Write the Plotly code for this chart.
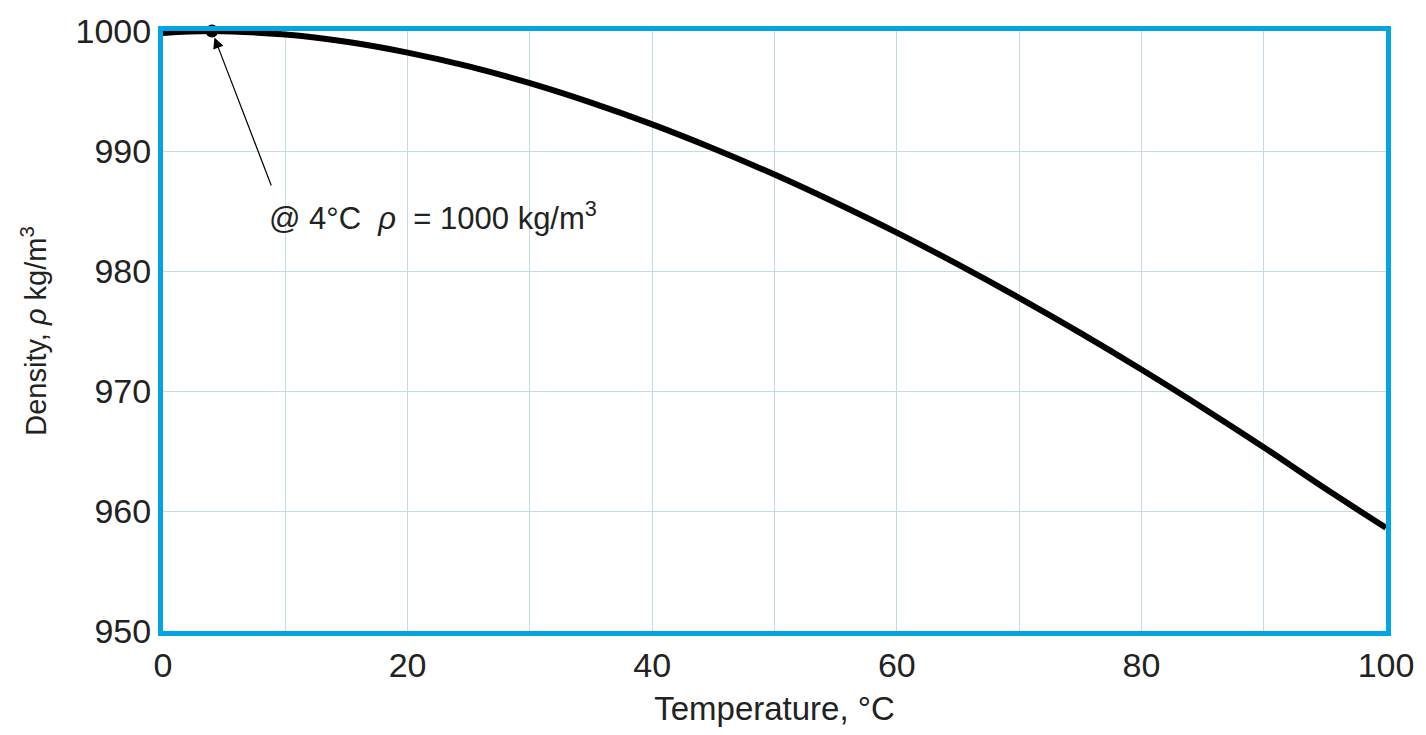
import plotly.graph_objects as go

# Data (density of water vs temperature)
temperature_c = [0, 4, 10, 15, 20, 25, 30, 35, 40, 45, 50, 55, 60, 65, 70, 75, 80, 85, 90, 95, 100]
density_kg_m3 = [999.84, 1000.0, 999.70, 999.10, 998.20, 997.05, 995.65, 994.03, 992.22,
                 990.21, 988.04, 985.69, 983.20, 980.55, 977.76, 974.84, 971.79, 968.61, 965.31, 961.89, 958.6]

max_point_t = [4]
max_point_rho = [1000.0]

x_ticks = [0, 20, 40, 60, 80, 100]
y_ticks = [950, 960, 970, 980, 990, 1000]

FONT = "Liberation Sans, Arial, sans-serif"
FRAME = "#02a4e4"
GRID = "#c3dbe4"
TXT = "#222222"

fig = go.Figure()
fig.add_trace(go.Scatter(
    x=temperature_c, y=density_kg_m3, mode="lines",
    line=dict(color="black", width=6, shape="spline", smoothing=1.0),
    showlegend=False, hoverinfo="x+y",
))
fig.add_trace(go.Scatter(
    x=max_point_t, y=max_point_rho, mode="markers",
    marker=dict(color="black", size=13),
    cliponaxis=False, showlegend=False,
))

# arrow
fig.add_annotation(
    x=4, y=1000, ax=8.9, ay=987.0, xref="x", yref="y", axref="x", ayref="y",
    text="", showarrow=True, arrowhead=2, arrowsize=1.8, arrowwidth=1.2,
    arrowcolor="black", standoff=7,
)
# label
fig.add_annotation(
    x=8.5, y=984.6, xref="x", yref="y", xanchor="left", yanchor="middle",
    text="@ 4°C  <i>ρ</i>  = 1000 kg/m<sup>3</sup>", showarrow=False,
    font=dict(family=FONT, size=31, color=TXT),
)

fig.update_xaxes(
    range=[0, 100], tickmode="array", tickvals=x_ticks, ticktext=[str(v) for v in x_ticks],
    showgrid=True, gridcolor=GRID, gridwidth=1,
    showline=True, linecolor=FRAME, linewidth=5, mirror=True,
    ticks="", zeroline=False,
    tickfont=dict(family=FONT, size=34, color=TXT),
    title=dict(text="Temperature, °C", font=dict(family=FONT, size=33, color=TXT), standoff=16),
    minor=dict(tickvals=[10, 30, 50, 70, 90], showgrid=True, gridcolor=GRID, gridwidth=1, ticks=""),
)
fig.update_yaxes(
    range=[950, 1000], tickmode="array", tickvals=y_ticks, ticktext=[str(v) for v in y_ticks],
    showgrid=True, gridcolor=GRID, gridwidth=1,
    showline=True, linecolor=FRAME, linewidth=5, mirror=True,
    ticks="", zeroline=False,
    tickfont=dict(family=FONT, size=34, color=TXT),
    title=dict(text="Density, <i>ρ</i> kg/m<sup>3</sup>", font=dict(family=FONT, size=29, color=TXT), standoff=22),
)

fig.update_layout(
    width=1426, height=735,
    margin=dict(l=163, r=36, t=25, b=102),
    paper_bgcolor="white", plot_bgcolor="white",
)

fig.write_html("out.html")
